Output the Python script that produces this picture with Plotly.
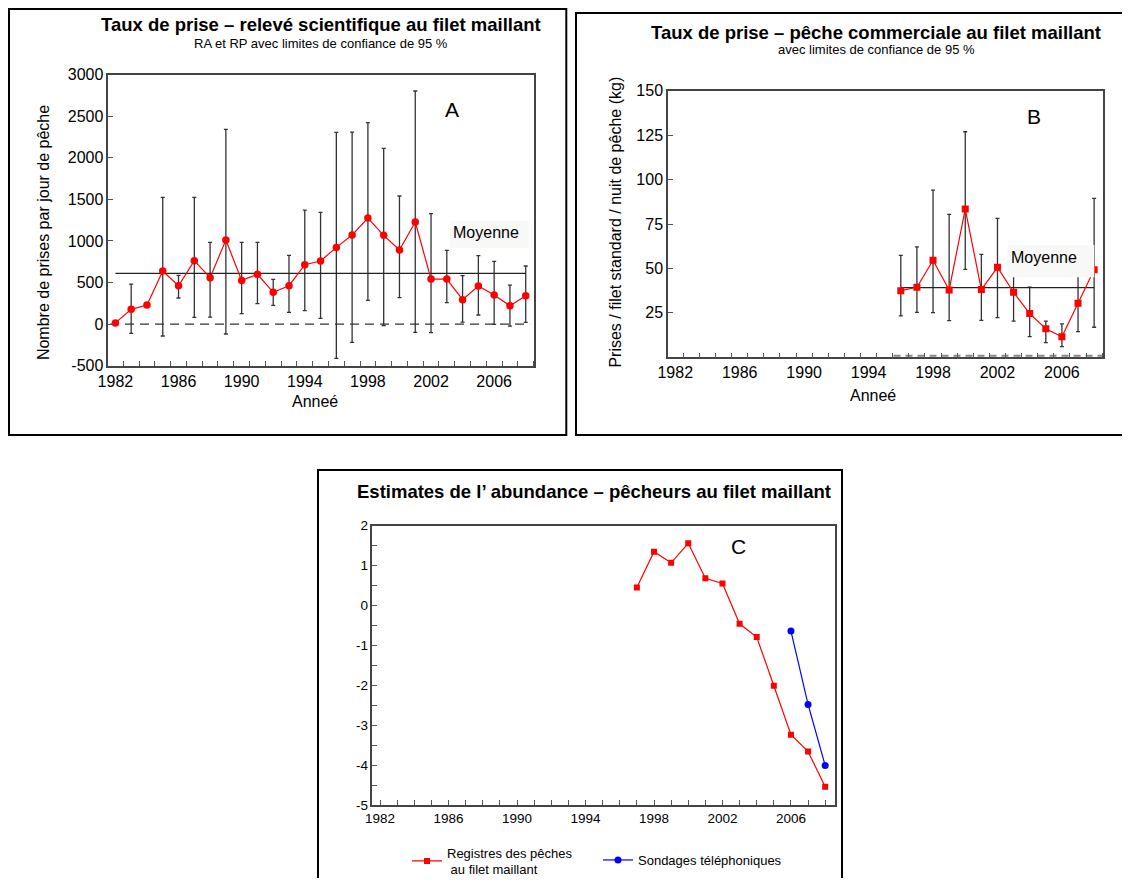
import plotly.graph_objects as go

FONT = "Liberation Sans, Arial, sans-serif"
# The page body has an 8px default margin; size the figure so the page fits the 1130x886 window.
OFF = 8
FW, FH = 1130 - 2 * OFF, 886 - 2 * OFF

# ---------------- Data ----------------
# Panel A: scientific gillnet survey (catch per fishing day), 95% CI
years_a = list(range(1982, 2009))
rate_a = [15, 178, 230, 639, 462, 763, 559, 1011, 526, 599, 382, 462, 715, 759,
          923, 1072, 1276, 1068, 891, 1228, 542, 542, 294, 458, 350, 222, 342]
upper_a = [None, 482, None, 1525, 587, 1525, 983, 2343, 983, 983, 539, 827, 1372, 1344,
           2306, 2310, 2423, 2114, 1541, 2804, 1328, 887, 583, 823, 755, 470, 699]
lower_a = [None, -111, None, -143, 314, 81, 85, -119, 126, 246, 226, 142, 162, 69,
           -412, -219, 286, -19, 318, -99, -103, 258, 25, 110, -3, -23, 21]

# Panel B: commercial gillnet (kg / standard net / night), 95% CI
years_b = list(range(1996, 2009))
rate_b = [37.5, 39.4, 54.6, 37.9, 83.4, 38.1, 50.6, 36.6, 24.6, 16.1, 11.6, 30.4, 49.3]
upper_b = [57.4, 62.1, 94.1, 80.4, 126.9, 57.9, 78.2, 53.0, 39.4, 20.3, 18.8, 47.0, 89.4]
lower_b = [23.3, 25.3, 25.1, 20.6, 49.5, 20.8, 22.3, 20.4, 11.6, 8.3, 6.0, 14.4, 16.9]

# Panel C: abundance estimates
years_c_reg = list(range(1997, 2009))
abund_reg = [0.45, 1.35, 1.07, 1.56, 0.68, 0.55, -0.46, -0.79, -2.01, -3.24, -3.66, -4.54]
years_c_tel = [2006, 2007, 2008]
abund_tel = [-0.64, -2.48, -4.01]

# Tick labels
yticks_a = [-500, 0, 500, 1000, 1500, 2000, 2500, 3000]
yticks_b = [25, 50, 75, 100, 125, 150]
yticks_c = [-5, -4, -3, -2, -1, 0, 1, 2]
xticks = [1982, 1986, 1990, 1994, 1998, 2002, 2006]

mean_a = sum(rate_a) / len(rate_a)
mean_b = sum(rate_b) / len(rate_b)


def err(vals, up, lo):
    plus = [None if u is None else u - v for v, u in zip(vals, up)]
    minus = [None if l is None else v - l for v, l in zip(vals, lo)]
    return plus, minus


plus_a, minus_a = err(rate_a, upper_a, lower_a)
plus_b, minus_b = err(rate_b, upper_b, lower_b)

ERR_STYLE = dict(type="data", symmetric=False, color="#333333", thickness=1.3, width=2)

fig = go.Figure()

# ---- Panel A ----
fig.add_trace(go.Scatter(x=years_a, y=rate_a, mode="markers",
                         marker=dict(size=1, color="rgba(0,0,0,0)"),
                         error_y=dict(array=plus_a, arrayminus=minus_a, **ERR_STYLE),
                         xaxis="x", yaxis="y", showlegend=False, hoverinfo="skip"))
fig.add_trace(go.Scatter(x=[years_a[0], years_a[-1]], y=[mean_a, mean_a], mode="lines",
                         line=dict(color="#222222", width=1.3),
                         xaxis="x", yaxis="y", showlegend=False))
fig.add_trace(go.Scatter(x=years_a, y=rate_a, mode="lines+markers",
                         line=dict(color="#ff0000", width=1.2),
                         marker=dict(symbol="circle", size=7.5, color="#ff0000"),
                         xaxis="x", yaxis="y", showlegend=False))

# ---- Panel B ----
fig.add_trace(go.Scatter(x=years_b, y=rate_b, mode="markers",
                         marker=dict(size=1, color="rgba(0,0,0,0)"),
                         error_y=dict(array=plus_b, arrayminus=minus_b, **ERR_STYLE),
                         xaxis="x2", yaxis="y2", showlegend=False, hoverinfo="skip"))
fig.add_trace(go.Scatter(x=[years_b[0], years_b[-1]], y=[mean_b, mean_b], mode="lines",
                         line=dict(color="#222222", width=1.3),
                         xaxis="x2", yaxis="y2", showlegend=False))
fig.add_trace(go.Scatter(x=years_b, y=rate_b, mode="lines+markers",
                         line=dict(color="#ff0000", width=1.2),
                         marker=dict(symbol="square", size=7, color="#ff0000"),
                         xaxis="x2", yaxis="y2", showlegend=False))

# ---- Panel C ----
fig.add_trace(go.Scatter(x=years_c_reg, y=abund_reg, mode="lines+markers",
                         name="Registres des pêches<br>\u00a0au filet maillant",
                         line=dict(color="#ff0000", width=1.2),
                         marker=dict(symbol="square", size=6, color="#ff0000"),
                         xaxis="x3", yaxis="y3", legend="legend"))
fig.add_trace(go.Scatter(x=years_c_tel, y=abund_tel, mode="lines+markers",
                         name="Sondages téléphoniques",
                         line=dict(color="#0000ff", width=1.2),
                         marker=dict(symbol="circle", size=7, color="#0000ff"),
                         xaxis="x3", yaxis="y3", legend="legend2"))


def px(x):
    return (x - OFF) / FW


def py(y):
    return 1 - (y - OFF) / FH


AXCOL = "#444444"
TICKCOL = "#555555"


def xaxis(dom, anchor, fsize, minor_tick0, major_ticks):
    return dict(domain=[px(dom[0]), px(dom[1])], range=[1981.55, 2008.55], anchor=anchor,
                tickmode="array", tickvals=xticks, ticktext=[str(v) for v in xticks],
                automargin=False,
                ticks="inside" if major_ticks else "", ticklen=5, tickcolor=TICKCOL,
                showline=True, linecolor=AXCOL, linewidth=1.5, mirror=True,
                showgrid=False, zeroline=False, tickfont=dict(size=fsize, color="black"),
                minor=dict(ticks="inside", ticklen=5, tickcolor=TICKCOL,
                           tickmode="linear", tick0=minor_tick0, dtick=1, showgrid=False))


def yaxis(dom, anchor, rng, vals, fsize, minor=None):
    d = dict(domain=[py(dom[1]), py(dom[0])], range=rng, anchor=anchor,
             tickmode="array", tickvals=vals, ticktext=[str(v) for v in vals],
             automargin=False,
             ticks="inside", ticklen=5, tickcolor=TICKCOL,
             showline=True, linecolor=AXCOL, linewidth=1.5, mirror=True,
             showgrid=False, zeroline=False, tickfont=dict(size=fsize, color="black"))
    if minor:
        d["minor"] = minor
    return d


layout = dict(
    width=FW, height=FH, autosize=False,
    margin=dict(l=0, r=0, t=0, b=0, pad=0, autoexpand=False),
    paper_bgcolor="white", plot_bgcolor="white",
    font=dict(family=FONT, color="black"),
    showlegend=True,
    xaxis=xaxis((108.3, 534.4), "y", 16, 1981.5, False),
    yaxis=yaxis((74.7, 365.7), "x", [-500, 3000], yticks_a, 16),
    xaxis2=xaxis((668, 1103), "y2", 16, 1981.5, False),
    yaxis2=yaxis((90.7, 357.3), "x2", [0, 150], yticks_b, 16),
    xaxis3=xaxis((372.4, 834.6), "y3", 13.5, 1982, True),
    yaxis3=yaxis((525.7, 805), "x3", [-5, 2], yticks_c, 13.5,
                 minor=dict(ticks="inside", ticklen=5, tickcolor=TICKCOL,
                            tickmode="linear", tick0=0, dtick=0.5, showgrid=False)),
    legend=dict(x=px(407), y=py(861), xanchor="left", yanchor="middle",
                bgcolor="rgba(0,0,0,0)", borderwidth=0, font=dict(size=13),
                valign="middle"),
    legend2=dict(x=px(598), y=py(860), xanchor="left", yanchor="middle",
                 bgcolor="rgba(0,0,0,0)", borderwidth=0, font=dict(size=13)),
)

shapes = []
# panel frames
for (x0, y0, x1, y1) in [(9, 9, 566.3, 435), (576, 13, 1140, 435), (318, 470, 842, 900)]:
    shapes.append(dict(type="rect", xref="paper", yref="paper",
                       x0=px(x0), x1=px(x1), y0=py(y1), y1=py(y0),
                       line=dict(color="black", width=2), fillcolor="rgba(0,0,0,0)",
                       layer="above"))
# zero reference lines
shapes.append(dict(type="line", xref="x domain", yref="y", x0=0.004, x1=0.99, y0=0, y1=0,
                   line=dict(color="#333333", width=1.3, dash="9px,6px"), layer="below"))
shapes.append(dict(type="line", xref="x2", yref="y2", x0=1995.55, x1=2008.5, y0=0.9, y1=0.9,
                   line=dict(color="#888888", width=2, dash="7px,5px"), layer="below"))
# "Moyenne" label backgrounds
for (x0, y0, x1, y1) in [(450, 220.7, 529, 248.3), (1007.5, 245, 1094.3, 277.3)]:
    shapes.append(dict(type="rect", xref="paper", yref="paper",
                       x0=px(x0), x1=px(x1), y0=py(y1), y1=py(y0),
                       line=dict(width=0), fillcolor="#f8f8f6", layer="above"))
layout["shapes"] = shapes


def ann(text, x, y, size, xanchor="center", angle=0):
    return dict(text=text, xref="paper", yref="paper", x=px(x), y=py(y),
                xanchor=xanchor, yanchor="middle", showarrow=False, textangle=angle,
                font=dict(size=size, color="black", family=FONT))


layout["annotations"] = [
    ann("<b>Taux de prise – relevé scientifique au filet maillant</b>", 320.8, 24, 18.5),
    ann("RA et RP avec limites de confiance de 95 %", 320.6, 43.5, 13),
    ann("<b>Taux de prise – pêche commerciale au filet maillant</b>", 876.3, 32, 18.5),
    ann("avec limites de confiance de 95 %", 876, 49.5, 13),
    ann("<b>Estimates de l’ abundance – pêcheurs au filet maillant</b>", 594, 491, 18.5),
    ann("A", 451.6, 109, 21),
    ann("B", 1034, 117, 21),
    ann("C", 738, 546, 21),
    ann("Moyenne", 450.5, 233, 16, xanchor="left"),
    ann("Moyenne", 1008.5, 257, 16, xanchor="left"),
    ann("Nombre de prises par jour de pêche", 43.6, 232.5, 16, angle=-90),
    ann("Prises / filet standard / nuit de pêche (kg)", 614.6, 222, 16, angle=-90),
    ann("Anneé", 314.8, 401.7, 16),
    ann("Anneé", 873, 395.7, 16),
]

fig.update_layout(**layout)
fig.write_html("out.html")
